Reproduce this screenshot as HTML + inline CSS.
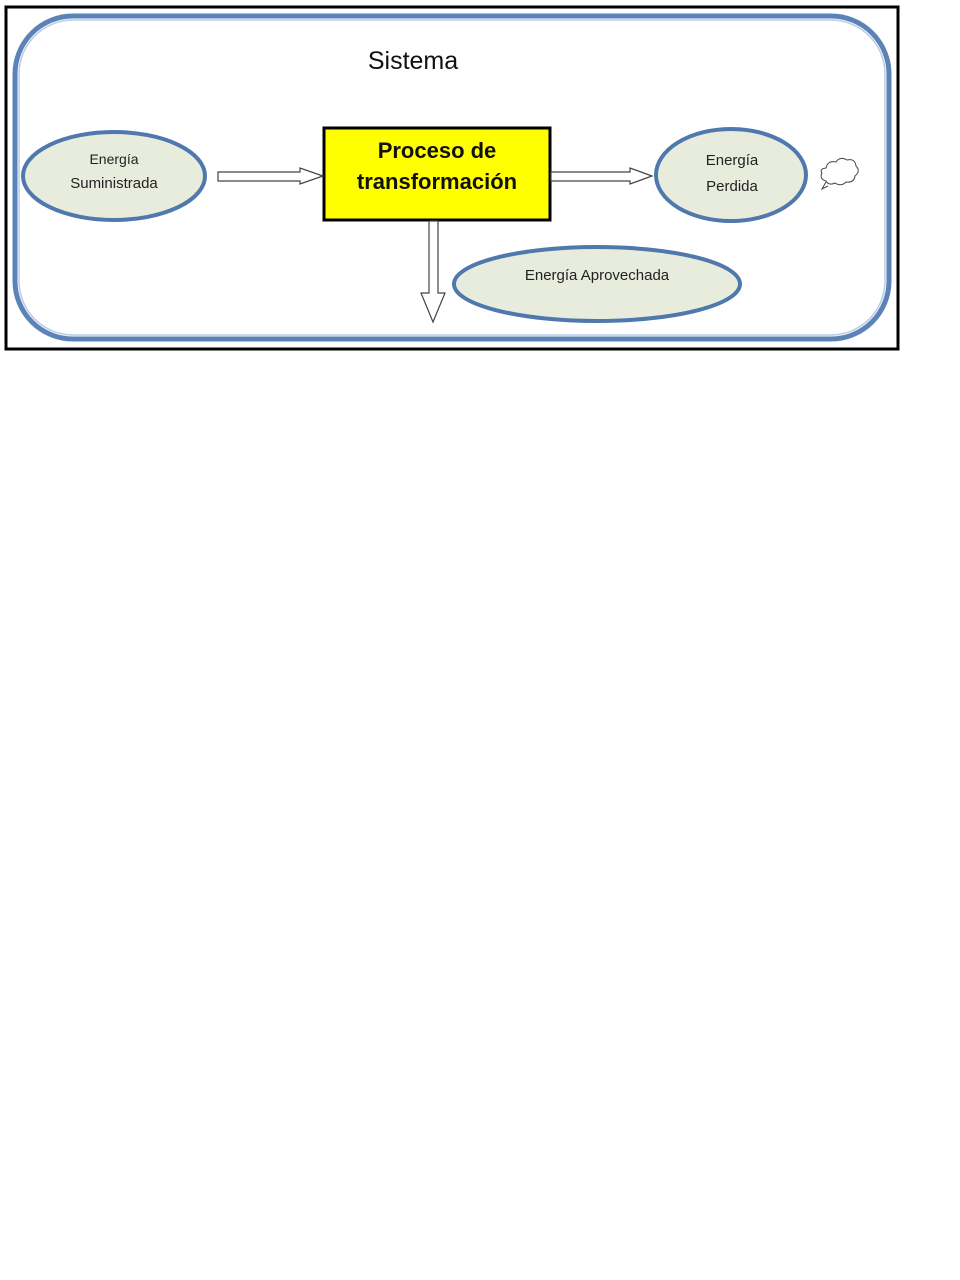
<!DOCTYPE html>
<html><head><meta charset="utf-8"><style>
html,body{margin:0;padding:0;background:#fff;width:960px;height:1280px;overflow:hidden}
svg{position:absolute;left:0;top:0}
</style></head><body>
<svg width="960" height="1280" xmlns="http://www.w3.org/2000/svg" font-family="Liberation Sans, sans-serif">
<rect x="6" y="7" width="892" height="342" fill="#fff" stroke="#000" stroke-width="3"/>
<rect x="15" y="16" width="874" height="323" rx="58" fill="#fff" stroke="#5b83b8" stroke-width="5"/>
<rect x="19" y="20" width="866" height="315" rx="54" fill="none" stroke="#b8cce6" stroke-width="1.5"/>
<text x="413" y="69" font-size="25" text-anchor="middle" fill="#111">Sistema</text>
<ellipse cx="114" cy="176" rx="91" ry="44" fill="#e8ecdc" stroke="#4f78ad" stroke-width="4"/>
<text x="114" y="164" font-size="14" text-anchor="middle" fill="#222">Energía</text>
<text x="114" y="188" font-size="15" text-anchor="middle" fill="#222">Suministrada</text>
<ellipse cx="731" cy="175" rx="75" ry="46" fill="#e8ecdc" stroke="#4f78ad" stroke-width="4"/>
<text x="732" y="165" font-size="15" text-anchor="middle" fill="#222">Energía</text>
<text x="732" y="191" font-size="15" text-anchor="middle" fill="#222">Perdida</text>
<ellipse cx="597" cy="284" rx="143" ry="37" fill="#e8ecdc" stroke="#4f78ad" stroke-width="4"/>
<text x="597" y="280" font-size="15" text-anchor="middle" fill="#222">Energía Aprovechada</text>
<rect x="324" y="128" width="226" height="92" fill="#ffff00" stroke="#000" stroke-width="3"/>
<text x="437" y="158" font-size="22" font-weight="bold" text-anchor="middle" fill="#111">Proceso de</text>
<text x="437" y="189" font-size="22" font-weight="bold" text-anchor="middle" fill="#111">transformación</text>
<polygon points="218,172 300,172 300,168 323,176 300,184 300,181 218,181" fill="#fff" stroke="#444" stroke-width="1.2"/>
<polygon points="551,172 630,172 630,168 652,176 630,184 630,181 551,181" fill="#fff" stroke="#444" stroke-width="1.2"/>
<polygon points="429,221 438,221 438,293 445,293 433,322 421,293 429,293" fill="#fff" stroke="#444" stroke-width="1.2"/>
<path d="M826,168 q2,-8 10,-6 q4,-6 11,-2 q8,-2 9,6 q5,5 -1,10 q-1,7 -9,6 q-5,5 -11,1 q-6,3 -9,-2 q-7,-2 -4,-8 q-3,-4 4,-5z" fill="#fff" stroke="#444" stroke-width="1"/>
<path d="M826,182 l-4,7 l6,-3" fill="none" stroke="#444" stroke-width="1"/>
</svg>
</body></html>
